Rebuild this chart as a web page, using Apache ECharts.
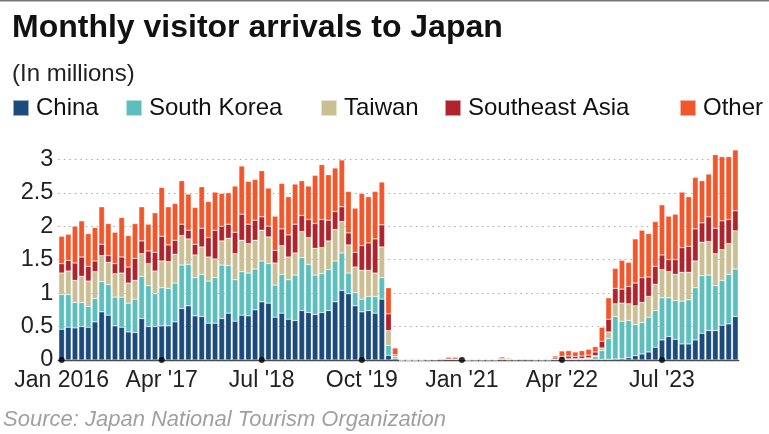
<!DOCTYPE html>
<html>
<head>
<meta charset="utf-8">
<script src="https://cdn.jsdelivr.net/npm/echarts@6.0.0/dist/echarts.min.js"></script>
<style>
  html, body { margin: 0; padding: 0; background: #fff; }
  #chart { width: 769px; height: 434px; }
</style>
</head>
<body>
<div id="chart"></div>
<script>
// monthly arrivals in millions, Jan 2016 .. Jun 2024
const china = [
  .46,.49,.48,.50,.49,.57,.72,.67,.51,.49,.42,.41,
  .62,.50,.50,.51,.51,.57,.77,.81,.66,.65,.55,.55,
  .62,.70,.58,.67,.66,.75,.87,.85,.64,.70,.61,.59,
  .74,.71,.68,.71,.74,.87,1.04,.99,.81,.72,.74,.70,
  .91,.07,.02,.001,0,.001,.001,.002,.003,.005,.010,.010,
  .009,.001,.002,.002,.002,.002,.005,.003,.003,.004,.004,.002,
  .002,.002,.006,.008,.010,.008,.008,.010,.010,.010,.010,.015,
  .02,.035,.065,.09,.12,.19,.30,.35,.31,.24,.24,.30,
  .40,.44,.44,.52,.54,.65
]
const korea = [
  .52,.49,.38,.36,.31,.35,.45,.46,.43,.45,.43,.50,
  .63,.61,.49,.57,.56,.58,.65,.62,.57,.63,.63,.68,
  .80,.71,.62,.65,.64,.61,.61,.59,.48,.58,.59,.68,
  .79,.72,.59,.58,.61,.61,.56,.31,.20,.19,.21,.25,
  .32,.15,.03,0,0,0,0,.001,.001,.002,.003,.003,
  .003,0,.001,.001,.001,.001,.003,.001,.001,.001,.001,.001,
  .001,.001,.004,.005,.007,.008,.010,.015,.040,.13,.31,.635,
  .56,.555,.465,.47,.52,.55,.63,.58,.58,.64,.66,.78,
  .86,.83,.67,.67,.74,.71
]
const taiwan = [
  .32,.35,.33,.39,.38,.40,.39,.33,.35,.36,.30,.28,
  .34,.33,.34,.40,.40,.43,.44,.38,.34,.41,.36,.28,
  .36,.41,.39,.47,.44,.43,.46,.40,.33,.43,.34,.33,
  .39,.40,.40,.39,.43,.47,.47,.42,.38,.43,.39,.35,
  .46,.22,.01,0,0,0,0,0,.001,.001,.001,.001,
  .001,0,0,0,0,0,.001,.001,0,0,0,0,
  0,0,.001,.001,.002,.003,.005,.008,.015,.04,.10,.19,
  .27,.25,.28,.30,.31,.39,.42,.39,.39,.43,.41,.40,
  .50,.50,.48,.46,.46,.57
]
const seAsia = [
  .14,.16,.26,.29,.22,.16,.17,.10,.15,.24,.24,.33,
  .19,.19,.28,.37,.25,.21,.17,.13,.16,.28,.29,.43,
  .22,.21,.32,.39,.29,.30,.20,.16,.19,.25,.33,.43,
  .24,.27,.37,.42,.31,.27,.22,.18,.22,.37,.41,.51,
  .33,.25,.02,.001,.001,.001,.002,.003,.005,.011,.020,.019,
  .016,.003,.005,.004,.004,.004,.011,.007,.006,.009,.009,.005,
  .007,.007,.020,.040,.040,.033,.037,.040,.055,.10,.19,.23,
  .21,.26,.34,.37,.29,.27,.22,.18,.22,.37,.39,.48,
  .29,.37,.38,.43,.36,.30
]
const other = [
  .41,.39,.55,.54,.49,.50,.56,.48,.47,.59,.47,.52,
  .51,.40,.59,.73,.57,.55,.65,.54,.55,.62,.54,.57,
  .49,.47,.69,.72,.64,.61,.69,.57,.51,.68,.57,.60,
  .52,.50,.72,.82,.68,.65,.70,.62,.66,.78,.69,.71,
  .64,.39,.10,.001,.001,.001,.001,.003,.004,.009,.016,.017,
  .011,.003,.004,.004,.003,.003,.025,.014,.008,.008,.007,.004,
  .007,.007,.029,.081,.081,.068,.080,.087,.080,.21,.32,.30,
  .43,.36,.66,.71,.65,.67,.75,.65,.68,.83,.74,.77,
  .63,.64,1.10,.96,.94,.91
]

const seriesNames = ['China', 'South Korea', 'Taiwan', 'Southeast Asia', 'Other']
const seriesData = [china, korea, taiwan, seAsia, other]
const colors = ['#1b4a7c', '#5cbfbe', '#cbbe93', '#ae232c', '#f1572a']

// month categories
const monthNames = ['Jan','Feb','Mar','Apr','May','Jun','Jul','Aug','Sep','Oct','Nov','Dec']
const categories = []
for (let y = 2016; y <= 2024; y++) {
  for (let m = 0; m < 12; m++) {
    if (categories.length < china.length) categories.push(monthNames[m] + ' ' + y)
  }
}
// labelled ticks (every 15 months)
const tickIdx = [0, 15, 30, 45, 60, 75, 90]
const tickLabels = ['Jan 2016', "Apr '17", "Jul '18", "Oct '19", "Jan '21", "Apr '22", "Jul '23"]
const yTicks = [0, 0.5, 1, 1.5, 2, 2.5, 3]

const font = 'Liberation Sans, Arial, sans-serif'
const legendX = [12, 125, 320, 444, 679]

const chart = echarts.init(document.getElementById('chart'))

const option = {
  animation: false,
  color: colors,
  textStyle: { fontFamily: font },
  graphic: [
    { type: 'rect', shape: { x: 0, y: 0, width: 769, height: 1.5 }, style: { fill: '#777' } },
    { type: 'text', x: 12, y: 28,
      style: { text: 'Monthly visitor arrivals to Japan', font: 'bold 32px ' + font, fill: '#111', verticalAlign: 'middle' } },
    { type: 'text', x: 12, y: 74,
      style: { text: '(In millions)', font: '24px ' + font, fill: '#222', verticalAlign: 'middle' } },
    { type: 'text', x: 3, y: 420,
      style: { text: 'Source: Japan National Tourism Organization', font: 'italic 22px ' + font, fill: '#a0a0a0', verticalAlign: 'middle' } }
  ],
  legend: seriesNames.map((n, k) => ({
    data: [n],
    left: legendX[k],
    top: 96,
    padding: 0,
    icon: 'rect',
    itemWidth: 16,
    itemHeight: 16,
    selectedMode: false,
    textStyle: { fontSize: 24, color: '#111', fontFamily: font, padding: [0, 0, 0, 2] }
  })),
  grid: { left: 58.3, right: 30.3, top: 159.3, bottom: 74, containLabel: false },
  xAxis: {
    type: 'category',
    data: categories,
    axisLine: { lineStyle: { color: '#444', width: 1.3 } },
    axisTick: { show: false },
    axisLabel: {
      interval: (idx) => tickIdx.indexOf(idx) >= 0,
      formatter: (val, idx) => tickLabels[tickIdx.indexOf(idx)] || '',
      fontSize: 23, color: '#222', margin: 9, fontFamily: font
    }
  },
  yAxis: {
    type: 'value',
    min: yTicks[0],
    max: yTicks[yTicks.length - 1],
    interval: 0.5,
    axisLine: { show: false },
    axisTick: { show: false },
    axisLabel: { fontSize: 23.5, color: '#222', margin: 5, fontFamily: font },
    splitLine: { lineStyle: { color: '#aaa', type: [1.5, 4], width: 1.2 } }
  },
  series: seriesNames.map((n, k) => ({
    name: n,
    type: 'bar',
    stack: 'total',
    data: seriesData[k],
    barCategoryGap: '16%',
    clip: false,
    itemStyle: { borderColor: 'rgba(255,255,255,0.55)', borderWidth: 0.5 }
  })).concat([{
    type: 'scatter',
    data: tickIdx.map(i => [i, 0]),
    symbolSize: 6,
    itemStyle: { color: '#000' },
    clip: false,
    z: 10,
    silent: true
  }])
}

chart.setOption(option)
</script>
</body>
</html>
